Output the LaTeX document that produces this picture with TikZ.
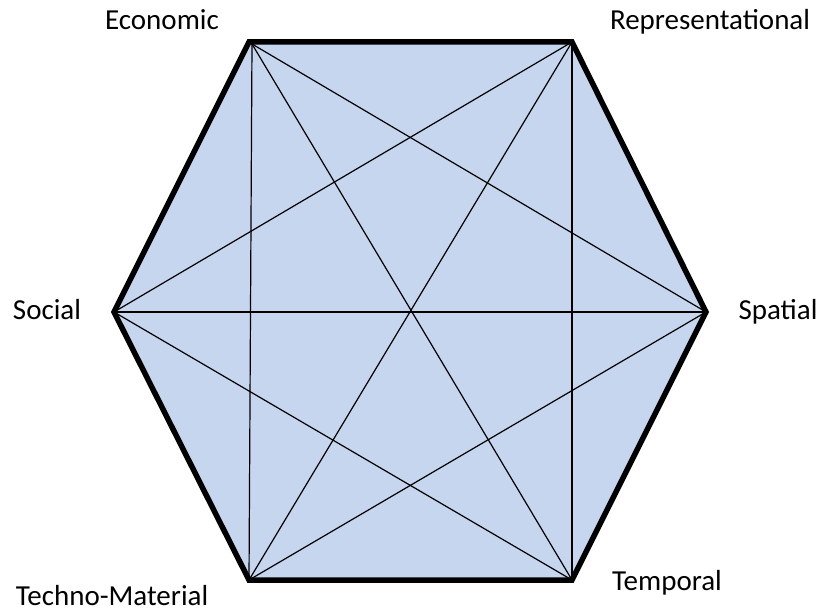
\documentclass[tikz,border=0pt]{standalone}
\usepackage{fontspec}
\setmainfont{Carlito}
\definecolor{hexfill}{HTML}{C6D6EE}
\begin{document}
\begin{tikzpicture}[x=1pt,y=-1pt,
  side/.style={line width=5.5pt,line join=miter,line cap=round},
  diag/.style={line width=1.2pt},
  lbl/.style={font=\fontsize{29}{34}\selectfont,inner sep=0pt}]
\useasboundingbox (0,0) rectangle (827,615);
\coordinate (E) at (249,42);
\coordinate (Ed) at (252,44);
\coordinate (R) at (572,42);
\coordinate (Sp) at (706,312);
\coordinate (T) at (572,580);
\coordinate (M) at (249,580);
\coordinate (So) at (114,312);
\fill[hexfill] (E) -- (R) -- (Sp) -- (T) -- (M) -- (So) -- cycle;
\foreach \a/\b in {Ed/Sp,Ed/T,Ed/M,R/So,R/M,R/T,Sp/So,Sp/M,T/So}
  \draw[diag] (\a) -- (\b);
\draw[side] (E) -- (R) -- (Sp) -- (T) -- (M) -- (So) -- cycle;
\node[lbl,anchor=base] (lE) at (162,30) {Economic};
\node[lbl,anchor=base] (lR) at (710,30) {Representational};
\node[lbl,anchor=base] (lSo) at (47,319) {Social};
\node[lbl,anchor=base] (lSp) at (778,319) {Spatial};
\node[lbl,anchor=base] (lM) at (112,605) {Techno-Material};
\node[lbl,anchor=base] (lT) at (667,590) {Temporal};
\end{tikzpicture}
\end{document}
